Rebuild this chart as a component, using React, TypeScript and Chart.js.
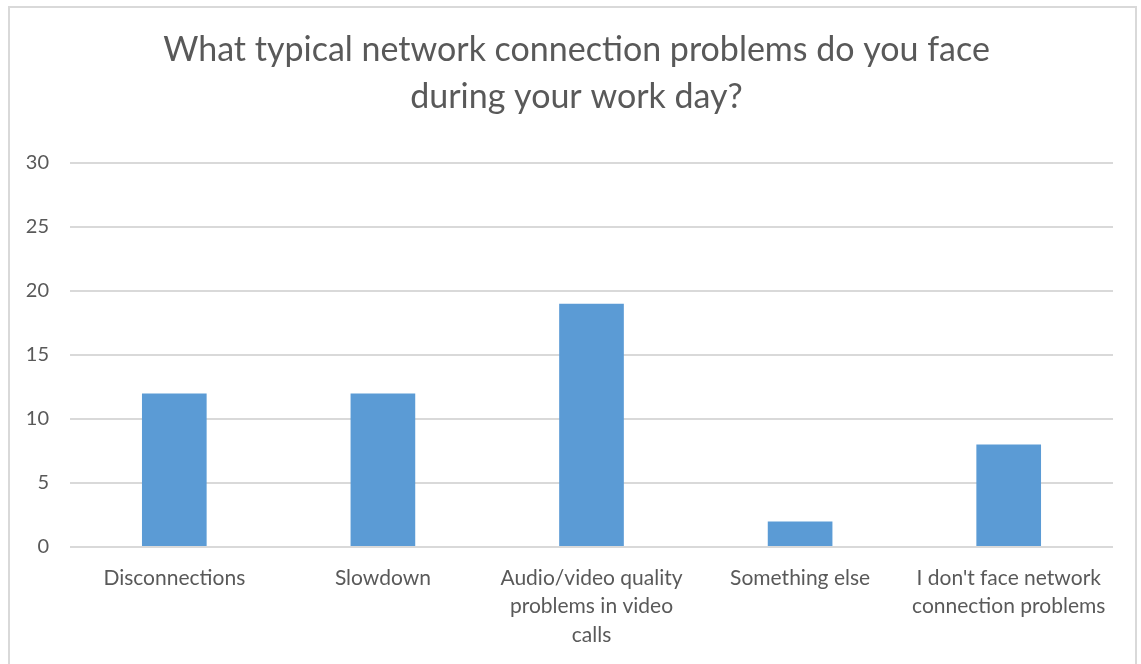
import React, { useEffect, useRef } from "react";
import { Chart, registerables } from "chart.js";

Chart.register(...registerables);

const titleLines = ["What typical network connection problems do you face", "during your work day?"];
const categories: (string | string[])[] = [
  "Disconnections",
  "Slowdown",
  ["Audio/video quality", "problems in video", "calls"],
  "Something else",
  ["I don't face network", "connection problems"],
];
const responses = [12, 12, 19, 2, 8];
const yTicks = [0, 5, 10, 15, 20, 25, 30];

const TEXT = "#595959";
const FONT = "Lato, 'Open Sans', sans-serif";

// Draws the two-line title centred over the whole canvas
const titlePlugin = {
  id: "centerTitle",
  afterDraw(chart: Chart) {
    const { ctx, width } = chart;
    ctx.save();
    ctx.fillStyle = TEXT;
    ctx.font = `400 34px ${FONT}`;
    ctx.textAlign = "center";
    ctx.textBaseline = "middle";
    titleLines.forEach((line, i) => ctx.fillText(line, width / 2 + 6, 50 + i * 47));
    ctx.restore();
  },
};

export default function App() {
  const ref = useRef<HTMLCanvasElement>(null);

  useEffect(() => {
    if (!ref.current) return;
    const chart = new Chart(ref.current, {
      type: "bar",
      data: {
        labels: categories,
        datasets: [
          {
            data: responses,
            backgroundColor: "#5B9BD5",
            categoryPercentage: 1,
            barPercentage: 0.31,
          },
        ],
      },
      plugins: [titlePlugin],
      options: {
        animation: false,
        responsive: false,
        layout: { padding: { top: 163, right: 28, bottom: 0, left: 0 } },
        plugins: { legend: { display: false }, title: { display: false }, tooltip: { enabled: false } },
        scales: {
          x: {
            grid: { display: false, drawTicks: false },
            border: { display: false },
            ticks: {
              color: TEXT,
              font: { family: FONT, size: 21, lineHeight: 1.35 },
              padding: 17,
              maxRotation: 0,
              autoSkip: false,
            },
            afterFit(scale: any) {
              scale.height = 117;
            },
          },
          y: {
            min: 0,
            max: 30,
            afterBuildTicks(scale: any) {
              scale.ticks = yTicks.map((v) => ({ value: v }));
            },
            grid: { color: "#d9d9d9", lineWidth: 2, drawTicks: false },
            border: { display: false },
            ticks: {
              color: TEXT,
              font: { family: FONT, size: 20 },
              padding: 21,
            },
            afterFit(scale: any) {
              scale.width = 70;
            },
          },
        },
      },
    });
    return () => chart.destroy();
  }, []);

  return (
    <div style={{ position: "fixed", left: 0, top: 0, width: 1141, height: 664, background: "#fff", overflow: "hidden" }}>
      <div
        style={{
          position: "absolute",
          left: 8,
          top: 6,
          width: 1129,
          height: 700,
          border: "2px solid #d9d9d9",
          boxSizing: "border-box",
        }}
      />
      <canvas ref={ref} width={1141} height={664} style={{ position: "absolute", left: 0, top: 0 }} />
    </div>
  );
}
